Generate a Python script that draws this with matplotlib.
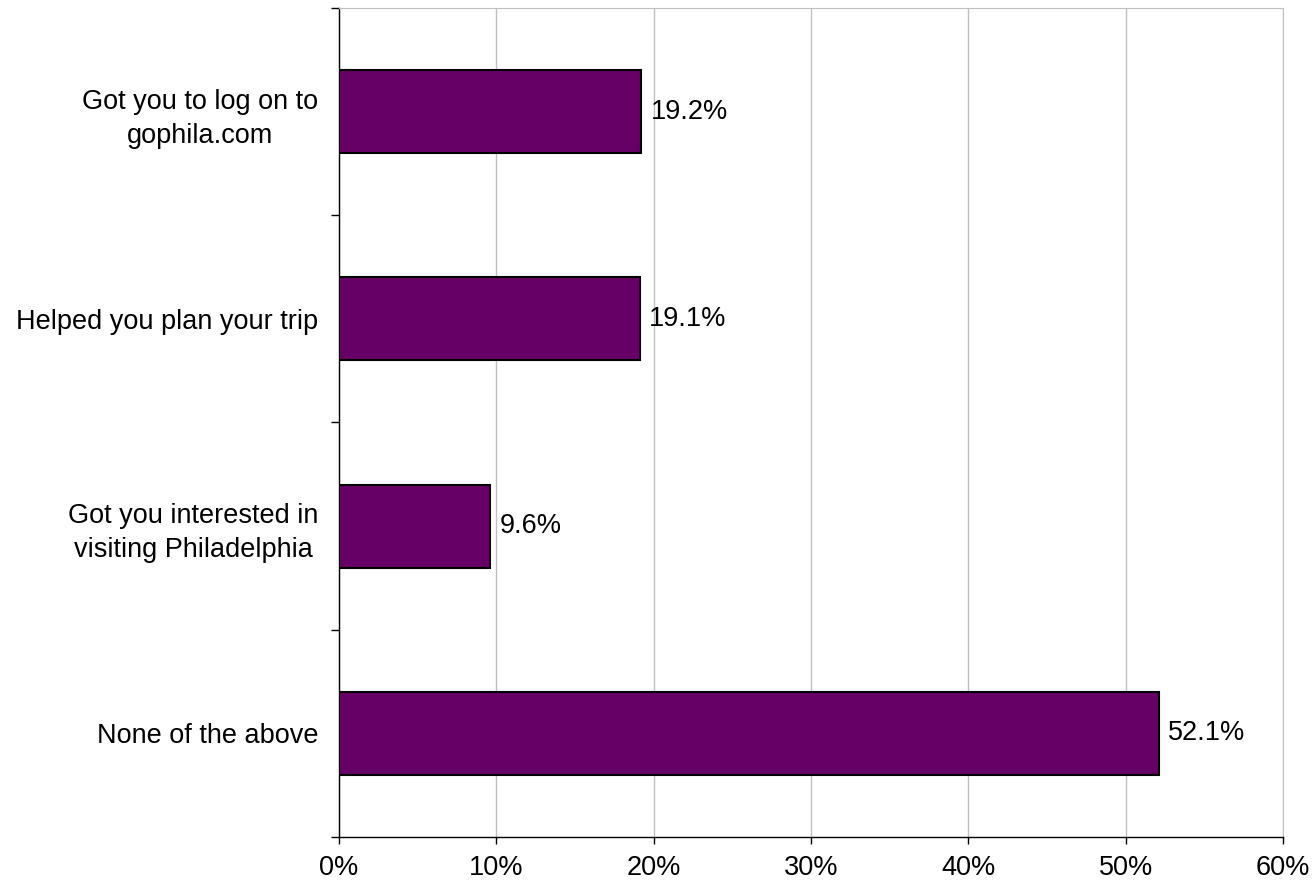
import matplotlib.pyplot as plt
from matplotlib.ticker import FixedLocator, PercentFormatter

plt.rcParams['font.family'] = ['Liberation Sans', 'DejaVu Sans']

# Survey answers, listed top to bottom
answers = ['Got you to log on to\ngophila.com',
           'Helped you plan your trip',
           'Got you interested in\nvisiting Philadelphia',
           'None of the above']
shares = [19.2, 19.1, 9.6, 52.1]
x_ticks = [0, 10, 20, 30, 40, 50, 60]

fs = 19.5

fig = plt.figure(figsize=(13.14, 8.9), dpi=100)
ax = fig.add_axes([0.258, 0.0596, 0.7184, 0.9314])

pos = list(range(len(answers)))[::-1]
ax.barh(pos, shares, height=0.4, color='#660066', edgecolor='black',
        linewidth=1.5, zorder=3)

for p, v in zip(pos, shares):
    ax.text(v + 0.6, p, f'{v:.1f}%', va='center', ha='left', fontsize=fs)

ax.set_xlim(0, 60)
ax.set_ylim(-0.5, len(answers) - 0.5)
ax.set_xticks(x_ticks)
ax.xaxis.set_major_formatter(PercentFormatter(decimals=0))
ax.grid(axis='x', color='#c0c0c0', linewidth=1, zorder=0)

ax.set_yticks(pos)
ax.set_yticklabels(answers, multialignment='center')
for lbl in ax.get_yticklabels():
    lbl.set_linespacing(1.4)
ax.yaxis.set_minor_locator(FixedLocator([i - 0.5 for i in range(len(answers) + 1)]))
ax.tick_params(axis='y', which='major', length=0, pad=15, labelsize=fs)
ax.tick_params(axis='y', which='minor', length=6, width=1, direction='out')
ax.tick_params(axis='x', length=5, width=1, direction='out', pad=8, labelsize=fs)

for side in ['top', 'right']:
    ax.spines[side].set_color('#c0c0c0')
for side in ['left', 'bottom']:
    ax.spines[side].set_color('black')
    ax.spines[side].set_linewidth(1)

fig.savefig('out.png', dpi=100)
